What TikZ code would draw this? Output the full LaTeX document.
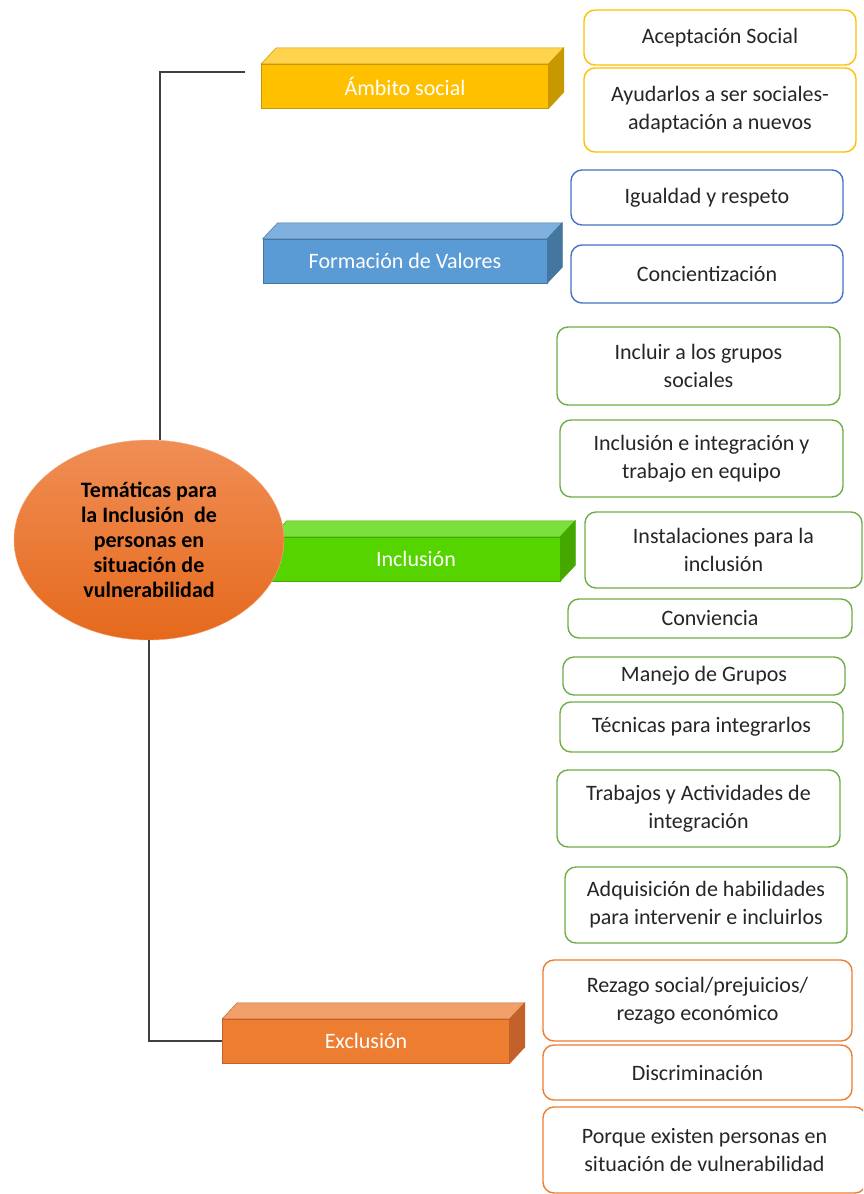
\documentclass[tikz,border=0pt]{standalone}
\usepackage{fontspec}
\setmainfont{Carlito}
\usepackage{xcolor}
\definecolor{amb}{HTML}{FFC000}
\definecolor{ambtop}{HTML}{FFD34D}
\definecolor{ambside}{HTML}{C89800}
\definecolor{form}{HTML}{5B9BD5}
\definecolor{formtop}{HTML}{7FB0E0}
\definecolor{formside}{HTML}{44779F}
\definecolor{incl}{HTML}{55D400}
\definecolor{incltop}{HTML}{7AE03C}
\definecolor{inclside}{HTML}{45A800}
\definecolor{excl}{HTML}{ED7D31}
\definecolor{excltop}{HTML}{F2A06A}
\definecolor{exclside}{HTML}{C2622A}
\definecolor{ambline}{HTML}{FFC000}
\definecolor{formline}{HTML}{4472C4}
\definecolor{inclline}{HTML}{70AD47}
\definecolor{exclline}{HTML}{ED7D31}
\definecolor{linkgray}{HTML}{404040}
\definecolor{ovtop}{HTML}{F08E55}
\definecolor{ovbot}{HTML}{E5691C}
\usepackage{tikz}
\usetikzlibrary{shapes.geometric}

\begin{document}
\begin{tikzpicture}[x=1pt,y=-1pt,font=\fontsize{22}{28}\selectfont,
  cube/.style={minimum width=287pt,minimum height=44pt,inner sep=0pt,text=white,line width=0.5pt},
  rbox/.style={draw,fill=white,rounded corners=11pt,line width=1.4pt,align=center,inner sep=0pt,text=black!85},
  link/.style={linkgray,line width=2.4pt}]
  \clip (0,0) rectangle (863,1194);
  % themes
  \node[cube,fill=amb,draw=ambside] (amb) at (405,86) {Ámbito social};
  \node[cube,fill=form,draw=formside,minimum width=284pt] (form) at (405,261) {Formación de Valores};
  \node[cube,fill=incl,draw=inclside,minimum width=288pt] (incl) at (416,559) {Inclusión};
  \node[cube,fill=excl,draw=exclside] (excl) at (366,1041) {Exclusión};
  \foreach \n/\tc/\sc in {amb/ambtop/ambside,form/formtop/formside,incl/incltop/inclside,excl/excltop/exclside}{
    \filldraw[fill=\tc,draw=\sc,line width=0.5pt] (\n.north west) -- ++(15,-16) -- ([shift={(15,-16)}]\n.north east) -- (\n.north east) -- cycle;
    \filldraw[fill=\sc,draw=\sc,line width=0.5pt] (\n.north east) -- ++(15,-16) -- ([shift={(15,-16)}]\n.south east) -- (\n.south east) -- cycle;
  }
  \node[ellipse,minimum width=270pt,minimum height=200pt,inner sep=0pt,top color=ovtop,bottom color=ovbot,draw=ovtop!70!white,
    align=center,font=\bfseries\fontsize{22}{25}\selectfont] (tema) at (149,540)
    {Temáticas para\\la Inclusión~ de\\personas en\\situación de\\vulnerabilidad};
  \coordinate (ambend) at (245,72);
  \draw[link] ([xshift=11pt]tema.north) |- (ambend);
  \draw[link] (tema.south) |- (excl.west);
  % Ambito social
  \node[rbox,draw=ambline,minimum width=272pt,minimum height=55pt] (a1) at (720,37.5) {Aceptación Social};
  \node[rbox,draw=ambline,minimum width=272pt,minimum height=84pt] (a2) at (720,110) {Ayudarlos a ser sociales-\\adaptación a nuevos};
  % Formacion de valores
  \node[rbox,draw=formline,minimum width=272pt,minimum height=55pt] (f1) at (707,197.5) {Igualdad y respeto};
  \node[rbox,draw=formline,minimum width=272pt,minimum height=58pt] (f2) at (707,274) {Concientización};
  % Inclusion
  \node[rbox,draw=inclline,minimum width=283pt,minimum height=78pt] (i1) at (698.5,366) {Incluir a los grupos\\sociales};
  \node[rbox,draw=inclline,minimum width=283pt,minimum height=77pt] (i2) at (701.5,458.5) {Inclusión e integración y\\trabajo en equipo};
  \node[rbox,draw=inclline,minimum width=277pt,minimum height=76pt] (i3) at (723.5,550) {Instalaciones para la\\inclusión};
  \node[rbox,draw=inclline,minimum width=284pt,minimum height=39pt] (i4) at (710,618.5) {Conviencia};
  \node[rbox,draw=inclline,minimum width=282pt,minimum height=38pt] (i5) at (704,676) {Manejo de Grupos};
  \node[rbox,draw=inclline,minimum width=283pt,minimum height=50pt] (i6) at (701.5,727) {Técnicas para integrarlos};
  \node[rbox,draw=inclline,minimum width=283pt,minimum height=77pt] (i7) at (698.5,808.5) {Trabajos y Actividades de\\integración};
  \node[rbox,draw=inclline,minimum width=282pt,minimum height=76pt] (i8) at (706,905) {Adquisición de habilidades\\para intervenir e incluirlos};
  % Exclusion
  \node[rbox,draw=exclline,minimum width=309pt,minimum height=81pt] (e1) at (697.5,1000.5) {Rezago social/prejuicios/\\rezago económico};
  \node[rbox,draw=exclline,minimum width=309pt,minimum height=55pt] (e2) at (697.5,1072.5) {Discriminación};
  \node[rbox,draw=exclline,minimum width=323pt,minimum height=86pt] (e3) at (704.5,1150) {Porque existen personas en\\situación de vulnerabilidad};
\end{tikzpicture}
\end{document}
